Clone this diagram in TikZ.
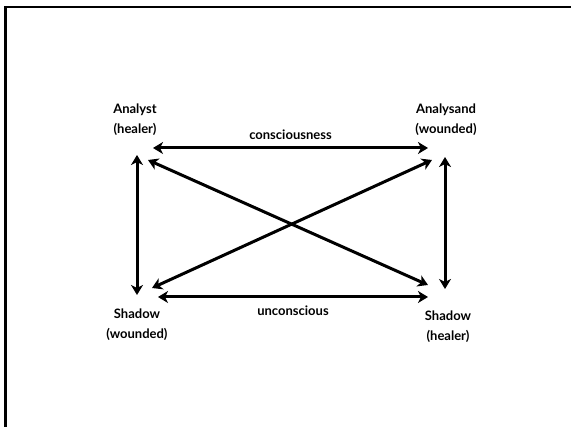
\documentclass[tikz,border=0pt]{standalone}
\usepackage{fontspec}
\setmainfont{Lato}
\usepackage{tikz}
\usetikzlibrary{arrows.meta}

\begin{document}
\begin{tikzpicture}[x=1pt,y=-1pt,>=Stealth,
  pole/.style={align=center,font=\bfseries\fontsize{13}{20}\selectfont},
  link/.style={font=\bfseries\fontsize{13}{16}\selectfont},
  dbl/.style={line width=3pt,{Stealth[length=10pt,width=12pt,inset=3pt]}-{Stealth[length=10pt,width=12pt,inset=3pt]}}]
  \useasboundingbox (0,0) rectangle (571,427);
  \draw[line width=2.5pt] (5.5,427)--(5.5,7)--(571,7);
  % poles
  \node[pole] (an) at (135,120) {Analyst\\(healer)};
  \node[pole] (ad) at (446,120) {Analysand\\(wounded)};
  \node[pole] (sw) at (137,325) {Shadow\\(wounded)};
  \node[pole] (sh) at (448,327) {Shadow\\(healer)};
  \coordinate (tL) at (153,148); \coordinate (tR) at (428,148);
  \coordinate (bL) at (158,297); \coordinate (bR) at (428,297);
  \coordinate (lT) at (137,155); \coordinate (lB) at (137,295);
  \coordinate (rT) at (445,157); \coordinate (rB) at (445,289);
  \coordinate (d1a) at (148,160); \coordinate (d1b) at (428,285);
  \coordinate (d2a) at (432,160); \coordinate (d2b) at (152,288);
  \draw[dbl] (tL)--(tR) node[link,midway,above=4pt] (cs) {consciousness};
  \draw[dbl] (bL)--(bR) node[link,midway,below=4pt] (uc) {unconscious};
  \draw[dbl] (lT)--(lB);
  \draw[dbl] (rT)--(rB);
  \draw[dbl] (d1a)--(d1b);
  \draw[dbl] (d2a)--(d2b);
\end{tikzpicture}
\end{document}
